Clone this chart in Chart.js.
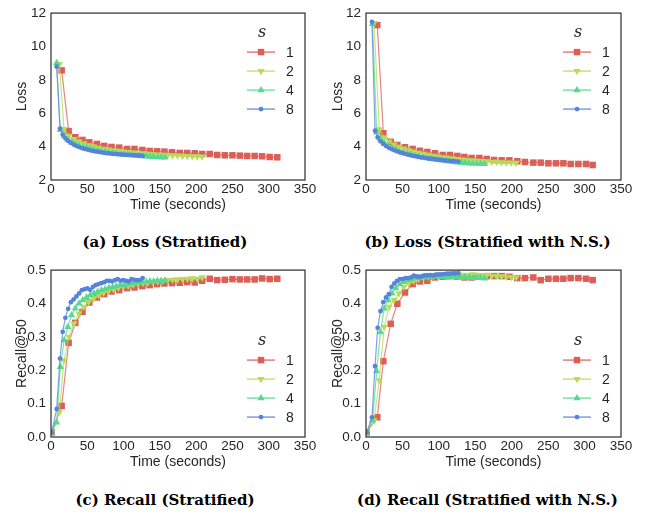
<!DOCTYPE html>
<html lang="en">
<head>
<meta charset="UTF-8" />
<title>Loss and Recall</title>
<script src="https://cdn.jsdelivr.net/npm/chart.js@4"></script>
<style>
  body { margin: 0; background: #fff; }
  #page { position: relative; width: 645px; height: 515px; overflow: hidden; }
  .panel { position: absolute; }
  .caption {
    position: absolute;
    font: bold 15px "DejaVu Serif", serif;
    color: #000;
    text-align: center;
    white-space: nowrap;
  }
</style>
</head>
<body>
<div id="page">
  <div class="panel" style="left:0px;top:0px"><canvas id="chartA" width="320" height="222"></canvas></div>
  <div class="panel" style="left:320px;top:0px"><canvas id="chartB" width="325" height="222"></canvas></div>
  <div class="panel" style="left:0px;top:257px"><canvas id="chartC" width="320" height="222"></canvas></div>
  <div class="panel" style="left:320px;top:257px"><canvas id="chartD" width="325" height="222"></canvas></div>

  <div class="caption" style="left:0px;top:233px;width:330px">(a) Loss (Stratified)</div>
  <div class="caption" style="left:330px;top:233px;width:315px">(b) Loss (Stratified with N.S.)</div>
  <div class="caption" style="left:0px;top:491px;width:330px">(c) Recall (Stratified)</div>
  <div class="caption" style="left:330px;top:491px;width:315px">(d) Recall (Stratified with N.S.)</div>
</div>

<script>
  // series (number of workers s)
  const seriesNames = ['1', '2', '4', '8']
  const xTicks = [0, 50, 100, 150, 200, 250, 300, 350]
  const lossTicks = [2, 4, 6, 8, 10, 12]
  const recallTicks = [0.0, 0.1, 0.2, 0.3, 0.4, 0.5]

  // time of each loss point (seconds), stratified runs
  const timeStrat1 = [14.7, 24.3, 33.5, 43.4, 52.8, 63.4, 73.3, 83.4, 94.0, 104.8, 115.0, 125.9, 136.0, 146.2, 156.3, 166.8, 177.4, 187.6, 198.1, 208.2, 218.7, 229.0, 239.5, 250.0, 260.2, 270.3, 280.6, 290.9, 301.3, 311.8]
  const timeStrat2 = [11.5, 18.0, 24.9, 31.6, 38.5, 45.2, 52.0, 58.9, 65.6, 72.4, 79.2, 86.0, 92.8, 99.6, 106.4, 113.2, 120.0, 126.8, 133.6, 140.4, 147.2, 154.0, 160.8, 167.6, 174.4, 181.2, 188.0, 194.8, 201.5, 208.2]
  const timeStrat4 = [7.8, 12.9, 18.1, 23.2, 28.4, 33.5, 38.6, 43.8, 48.9, 54.1, 59.2, 64.3, 69.5, 74.6, 79.8, 84.9, 90.0, 95.2, 100.3, 105.5, 110.6, 115.7, 120.9, 126.0, 131.2, 136.3, 141.4, 146.6, 151.7, 156.9]
  const timeStrat8 = [7.8, 12.4, 16.1, 19.8, 23.6, 27.4, 31.2, 35.0, 38.8, 42.6, 46.4, 50.2, 54.0, 57.8, 61.6, 65.4, 69.2, 73.0, 76.8, 80.6, 84.4, 88.2, 92.0, 95.8, 99.6, 103.4, 107.2, 111.0, 114.8, 118.6, 122.4, 126.3]

  // time of each loss point (seconds), stratified with N.S.
  const timeNS1 = [15.5, 23.8, 33.9, 43.0, 53.5, 64.0, 74.0, 84.2, 94.7, 105.2, 115.3, 125.4, 135.0, 145.0, 155.6, 165.7, 175.7, 186.2, 196.8, 207.7, 218.2, 229.7, 239.8, 250.3, 260.8, 270.9, 280.9, 291.5, 302.0, 311.1]
  const timeNS2 = [11.0, 18.3, 25.0, 31.8, 38.5, 45.2, 51.9, 58.6, 65.4, 72.1, 78.8, 85.5, 92.2, 98.9, 105.6, 112.3, 119.0, 125.7, 132.4, 139.1, 145.8, 152.5, 159.2, 165.9, 172.6, 179.3, 186.0, 192.7, 199.4, 206.1]
  const timeNS4 = [9.0, 14.6, 19.8, 25.1, 30.4, 35.7, 41.0, 46.2, 51.5, 56.8, 62.1, 67.4, 72.6, 77.9, 83.2, 88.5, 93.8, 99.0, 104.3, 109.6, 114.9, 120.2, 125.4, 130.7, 136.0, 141.3, 146.6, 151.8, 157.1, 162.4]
  const timeNS8 = [8.2, 12.4, 16.0, 19.9, 23.7, 27.5, 31.3, 35.1, 38.9, 42.7, 46.5, 50.3, 54.1, 57.9, 61.7, 65.5, 69.3, 73.1, 76.9, 80.7, 84.5, 88.3, 92.1, 95.9, 99.7, 103.5, 107.3, 111.1, 114.9, 118.7, 122.5, 126.7]

  // recall is also measured once before training
  const recallStart = 1

  // (a) loss, stratified
  const lossStrat1 = [8.57, 4.93, 4.56, 4.40, 4.26, 4.16, 4.04, 3.98, 3.94, 3.86, 3.86, 3.80, 3.74, 3.72, 3.70, 3.66, 3.62, 3.62, 3.60, 3.56, 3.56, 3.50, 3.48, 3.48, 3.46, 3.44, 3.44, 3.42, 3.38, 3.36]
  const lossStrat2 = [8.95, 5.05, 4.65, 4.45, 4.30, 4.18, 4.08, 4.00, 3.93, 3.87, 3.82, 3.78, 3.74, 3.70, 3.67, 3.64, 3.61, 3.59, 3.56, 3.54, 3.52, 3.50, 3.49, 3.47, 3.46, 3.44, 3.43, 3.42, 3.41, 3.40]
  const lossStrat4 = [9.02, 5.00, 4.62, 4.42, 4.28, 4.17, 4.08, 4.00, 3.93, 3.87, 3.82, 3.77, 3.73, 3.69, 3.65, 3.62, 3.59, 3.56, 3.54, 3.51, 3.49, 3.47, 3.45, 3.43, 3.42, 3.40, 3.39, 3.38, 3.36, 3.35]
  const lossStrat8 = [8.79, 5.08, 4.72, 4.50, 4.34, 4.22, 4.12, 4.04, 3.97, 3.91, 3.86, 3.82, 3.78, 3.74, 3.71, 3.68, 3.66, 3.63, 3.61, 3.59, 3.57, 3.56, 3.54, 3.53, 3.52, 3.51, 3.50, 3.49, 3.48, 3.47, 3.46, 3.45]

  // (b) loss, stratified with N.S.
  const lossNS1 = [11.28, 4.80, 4.29, 4.10, 3.96, 3.86, 3.75, 3.68, 3.60, 3.50, 3.50, 3.44, 3.38, 3.32, 3.32, 3.26, 3.20, 3.18, 3.18, 3.12, 3.08, 3.04, 3.04, 3.00, 3.00, 3.00, 2.96, 2.96, 2.96, 2.90]
  const lossNS2 = [11.40, 5.03, 4.55, 4.30, 4.12, 3.99, 3.88, 3.78, 3.70, 3.62, 3.56, 3.50, 3.45, 3.40, 3.36, 3.32, 3.28, 3.25, 3.22, 3.19, 3.17, 3.15, 3.13, 3.11, 3.09, 3.08, 3.06, 3.05, 3.04, 3.03]
  const lossNS4 = [11.35, 4.85, 4.45, 4.22, 4.05, 3.92, 3.81, 3.72, 3.64, 3.57, 3.51, 3.45, 3.40, 3.35, 3.31, 3.27, 3.23, 3.20, 3.17, 3.14, 3.11, 3.09, 3.06, 3.04, 3.02, 3.00, 2.99, 2.98, 2.97, 2.96]
  const lossNS8 = [11.48, 4.95, 4.55, 4.32, 4.16, 4.03, 3.93, 3.85, 3.78, 3.72, 3.66, 3.61, 3.56, 3.52, 3.48, 3.44, 3.41, 3.38, 3.35, 3.33, 3.30, 3.28, 3.26, 3.24, 3.22, 3.20, 3.18, 3.16, 3.15, 3.13, 3.12, 3.10]

  // (c) recall@50, stratified (first value is at recallStart)
  const recallStrat1 = [0.014, 0.093, 0.282, 0.342, 0.375, 0.403, 0.418, 0.428, 0.436, 0.440, 0.446, 0.448, 0.452, 0.455, 0.458, 0.460, 0.461, 0.462, 0.464, 0.463, 0.468, 0.474, 0.470, 0.471, 0.473, 0.472, 0.472, 0.472, 0.475, 0.473, 0.474]
  const recallStrat2 = [0.014, 0.075, 0.230, 0.300, 0.340, 0.370, 0.390, 0.405, 0.415, 0.425, 0.432, 0.438, 0.443, 0.447, 0.450, 0.453, 0.456, 0.458, 0.461, 0.463, 0.465, 0.466, 0.468, 0.470, 0.471, 0.472, 0.473, 0.474, 0.475, 0.474, 0.478]
  const recallStrat4 = [0.014, 0.044, 0.210, 0.290, 0.330, 0.365, 0.385, 0.400, 0.410, 0.418, 0.425, 0.430, 0.435, 0.440, 0.443, 0.447, 0.449, 0.452, 0.455, 0.455, 0.458, 0.460, 0.461, 0.463, 0.464, 0.465, 0.467, 0.466, 0.468, 0.468, 0.469]
  const recallStrat8 = [0.014, 0.084, 0.235, 0.315, 0.357, 0.384, 0.404, 0.412, 0.421, 0.430, 0.440, 0.443, 0.445, 0.441, 0.450, 0.455, 0.458, 0.461, 0.463, 0.468, 0.468, 0.466, 0.470, 0.473, 0.468, 0.470, 0.468, 0.466, 0.473, 0.471, 0.470, 0.470, 0.476]

  // (d) recall@50, stratified with N.S.
  const recallNS1 = [0.014, 0.059, 0.227, 0.339, 0.399, 0.433, 0.458, 0.466, 0.468, 0.478, 0.480, 0.482, 0.480, 0.478, 0.478, 0.480, 0.482, 0.482, 0.482, 0.480, 0.476, 0.476, 0.478, 0.470, 0.474, 0.474, 0.474, 0.476, 0.476, 0.474, 0.470]
  const recallNS2 = [0.014, 0.050, 0.170, 0.330, 0.390, 0.410, 0.430, 0.450, 0.460, 0.468, 0.473, 0.477, 0.480, 0.482, 0.484, 0.485, 0.486, 0.486, 0.487, 0.486, 0.485, 0.487, 0.486, 0.484, 0.485, 0.483, 0.482, 0.481, 0.480, 0.479, 0.478]
  const recallNS4 = [0.014, 0.050, 0.197, 0.314, 0.385, 0.410, 0.430, 0.446, 0.458, 0.465, 0.470, 0.473, 0.476, 0.478, 0.479, 0.480, 0.481, 0.481, 0.482, 0.480, 0.478, 0.479, 0.480, 0.478, 0.477, 0.479, 0.478, 0.476, 0.478, 0.477, 0.475]
  const recallNS8 = [0.014, 0.059, 0.212, 0.327, 0.377, 0.404, 0.418, 0.428, 0.450, 0.460, 0.468, 0.473, 0.473, 0.476, 0.476, 0.478, 0.483, 0.481, 0.479, 0.482, 0.484, 0.484, 0.485, 0.484, 0.486, 0.487, 0.487, 0.488, 0.489, 0.489, 0.490, 0.490, 0.491]

  // styles
  const markerColors = ['#db5f57', '#b9db57', '#57d98f', '#5784db']
  const lineColors = ['rgba(219,95,87,0.75)', 'rgba(185,219,87,0.75)', 'rgba(87,217,143,0.75)', 'rgba(87,132,219,0.75)']
  const markerStyles = ['rect', 'triangle', 'triangle', 'circle']
  const markerTurns = [0, 180, 0, 0]
  const markerSizes = [4.6, 4.2, 4.2, 2.4]
  const textColor = '#262626'
  const sansFont = '"Liberation Sans", Arial, sans-serif'

  function pairs(xs, ys) {
    return ys.map((y, i) => ({ x: xs[i], y: y }))
  }

  function makeDatasets(times, values) {
    return values.map((v, k) => ({
      label: seriesNames[k],
      data: pairs(times[k], v),
      borderColor: lineColors[k],
      backgroundColor: markerColors[k],
      pointBackgroundColor: markerColors[k],
      pointBorderWidth: 0,
      pointStyle: markerStyles[k],
      pointRotation: markerTurns[k],
      pointRadius: markerSizes[k],
      borderWidth: 1.2,
      order: 3 - k
    }))
  }

  // box around the plot area + the "s" legend
  const frameAndLegend = {
    id: 'frameAndLegend',
    afterDatasetsDraw(chart, args, opts) {
      const ctx = chart.ctx
      const a = chart.chartArea
      ctx.save()
      ctx.strokeStyle = '#333333'
      ctx.lineWidth = 1.25
      ctx.strokeRect(a.left, a.top, a.right - a.left, a.bottom - a.top)

      const x0 = a.right - 58
      const y0 = a.top + opts.top
      ctx.fillStyle = textColor
      ctx.font = 'italic 16px "DejaVu Serif", serif'
      ctx.textAlign = 'center'
      ctx.textBaseline = 'middle'
      ctx.fillText('s', x0 + 15, y0)

      chart.data.datasets.forEach((ds, i) => {
        const y = y0 + 19 * (i + 1)
        ctx.strokeStyle = ds.borderColor
        ctx.lineWidth = 1.6
        ctx.beginPath()
        ctx.moveTo(x0, y)
        ctx.lineTo(x0 + 28, y)
        ctx.stroke()
        ctx.fillStyle = ds.pointBackgroundColor
        Chart.helpers.drawPoint(ctx, {
          pointStyle: ds.pointStyle,
          rotation: ds.pointRotation,
          radius: ds.pointRadius,
          borderWidth: 0
        }, x0 + 14, y)
        ctx.fillStyle = textColor
        ctx.font = '14px ' + sansFont
        ctx.textAlign = 'left'
        ctx.fillText(ds.label, x0 + 39, y + 1)
      })
      ctx.restore()
    }
  }

  function plotChart(canvasId, datasets, cfg) {
    const tickFont = { family: sansFont, size: 13.5 }
    const titleFont = { family: sansFont, size: 14 }
    new Chart(document.getElementById(canvasId), {
      type: 'line',
      data: { datasets: datasets },
      plugins: [frameAndLegend],
      options: {
        responsive: false,
        animation: false,
        devicePixelRatio: 1,
        layout: { padding: { top: 13, right: cfg.padRight, left: 0, bottom: 0 } },
        plugins: {
          legend: { display: false },
          tooltip: { enabled: false },
          frameAndLegend: { top: cfg.legendTop }
        },
        scales: {
          x: {
            type: 'linear',
            min: xTicks[0],
            max: xTicks[xTicks.length - 1],
            afterBuildTicks: s => { s.ticks = xTicks.map(v => ({ value: v })) },
            ticks: { color: textColor, font: tickFont, padding: 1.5, maxRotation: 0, autoSkip: false },
            grid: { display: false, drawTicks: false },
            border: { display: false },
            title: { display: true, text: 'Time (seconds)', color: textColor, font: titleFont, padding: { top: 0, bottom: 8 } },
            afterFit: s => { s.height = 42 }
          },
          y: {
            type: 'linear',
            min: cfg.yTicks[0],
            max: cfg.yTicks[cfg.yTicks.length - 1],
            afterBuildTicks: s => { s.ticks = cfg.yTicks.map(v => ({ value: v })) },
            ticks: {
              color: textColor,
              font: tickFont,
              padding: 5,
              callback: v => v.toFixed(cfg.decimals)
            },
            grid: { display: false, drawTicks: false },
            border: { display: false },
            title: { display: true, text: cfg.yTitle, color: textColor, font: titleFont, padding: { top: cfg.yTitlePad, bottom: 0 } },
            afterFit: s => { s.width = cfg.yWidth }
          }
        }
      }
    })
  }

  plotChart('chartA',
    makeDatasets([timeStrat1, timeStrat2, timeStrat4, timeStrat8],
                 [lossStrat1, lossStrat2, lossStrat4, lossStrat8]),
    { yTicks: lossTicks, decimals: 0, yTitle: 'Loss', yWidth: 51, yTitlePad: 14, padRight: 15, legendTop: 20 })

  plotChart('chartB',
    makeDatasets([timeNS1, timeNS2, timeNS4, timeNS8],
                 [lossNS1, lossNS2, lossNS4, lossNS8]),
    { yTicks: lossTicks, decimals: 0, yTitle: 'Loss', yWidth: 46, yTitlePad: 10, padRight: 24, legendTop: 20 })

  plotChart('chartC',
    makeDatasets([[recallStart, ...timeStrat1], [recallStart, ...timeStrat2], [recallStart, ...timeStrat4], [recallStart, ...timeStrat8]],
                 [recallStrat1, recallStrat2, recallStrat4, recallStrat8]),
    { yTicks: recallTicks, decimals: 1, yTitle: 'Recall@50', yWidth: 51, yTitlePad: 14, padRight: 15, legendTop: 71 })

  plotChart('chartD',
    makeDatasets([[recallStart, ...timeNS1], [recallStart, ...timeNS2], [recallStart, ...timeNS4], [recallStart, ...timeNS8]],
                 [recallNS1, recallNS2, recallNS4, recallNS8]),
    { yTicks: recallTicks, decimals: 1, yTitle: 'Recall@50', yWidth: 46, yTitlePad: 10, padRight: 24, legendTop: 71 })
</script>
</body>
</html>
